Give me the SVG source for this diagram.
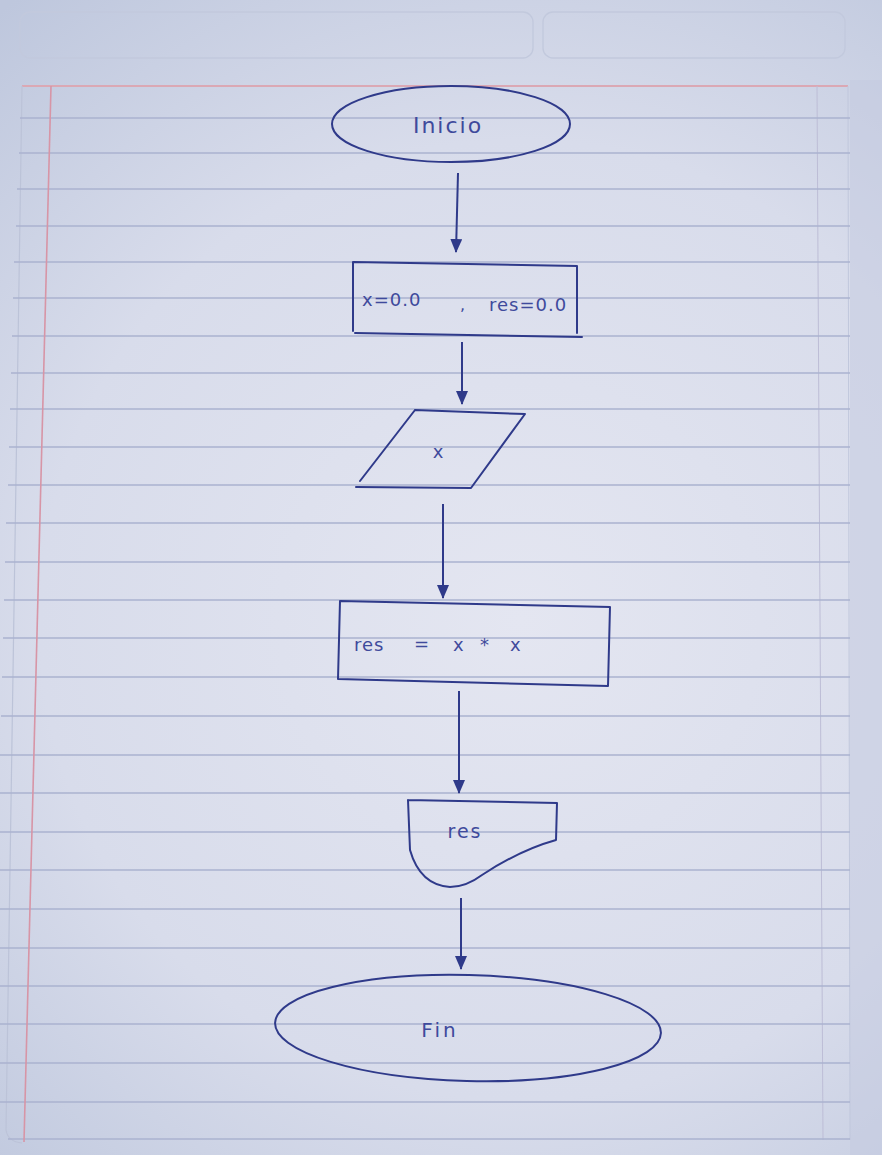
<svg xmlns="http://www.w3.org/2000/svg" width="882" height="1155" viewBox="0 0 882 1155">
  <defs>
    <radialGradient id="paper" cx="520" cy="620" r="800" gradientUnits="userSpaceOnUse">
      <stop offset="0" stop-color="#e4e6f1"/>
      <stop offset="0.6" stop-color="#d8dceb"/>
      <stop offset="1" stop-color="#bec7dd"/>
    </radialGradient>
    <marker id="arrow" viewBox="0 0 14 12" refX="13" refY="6" markerWidth="14" markerHeight="12" markerUnits="userSpaceOnUse" orient="auto">
      <path d="M0,0 L14,6 L0,12 Z" fill="#2f3a8a"/>
    </marker>
    <style>
      .rule { stroke: #aab2d0; stroke-width: 1.4; fill: none; }
      .ink { stroke: #2f3a8a; stroke-width: 2; fill: none; stroke-linecap: round; stroke-linejoin: round; }
      .conn { stroke: #2f3a8a; stroke-width: 2; fill: none; marker-end: url(#arrow); }
      .lbl { font-family: "DejaVu Sans", "Liberation Sans", sans-serif; font-weight: 400; fill: #3f4a9c; }
    </style>
  </defs>

  <!-- paper -->
  <rect x="0" y="0" width="882" height="1155" fill="url(#paper)"/>
  <rect x="850" y="80" width="32" height="1075" fill="#c3cadf" opacity="0.5"/>
  <!-- header boxes -->
  <rect x="20" y="12" width="513" height="46" rx="10" fill="none" stroke="#c2c9dd" stroke-width="1.4"/>
  <rect x="543" y="12" width="302" height="46" rx="10" fill="none" stroke="#c2c9dd" stroke-width="1.4"/>
  <!-- page top edge (pink) -->
  <line x1="22" y1="86" x2="848" y2="86" stroke="#dba8b4" stroke-width="2"/>
  <!-- page left edge -->
  <path d="M22,86 L6,1130 Q8,1142 22,1143" fill="none" stroke="#bcc3d8" stroke-width="1.2"/>
  <!-- right guide -->
  <line x1="817" y1="86" x2="823" y2="1140" stroke="#bdbdd6" stroke-width="1"/>
  <line x1="848" y1="86" x2="850" y2="1140" stroke="#c0c7dc" stroke-width="1"/>

  <!-- ruled lines -->
  <path class="rule" d="M20,118 H850 M19,153 H850 M17,189 H850 M16,226 H850 M14,262 H850 M13,298 H850 M12,336 H850 M11,373 H850 M10,409 H850 M9,447 H850 M8,485 H850 M6,523 H850 M5,562 H850 M4,600 H850 M3,638 H850 M2,677 H850 M1,716 H850 M0,755 H850 M0,793 H850 M0,832 H850 M0,870 H850 M0,909 H850 M0,948 H850 M0,986 H850 M0,1024 H850 M0,1063 H850 M0,1102 H850 M8,1139 H850"/>
  <!-- red margin -->
  <line x1="51" y1="86" x2="24" y2="1142" stroke="#d795a6" stroke-width="1.6"/>

  <!-- connectors -->
  <g id="connectors">
    <path class="conn" d="M458,173 L456,252"/>
    <path class="conn" d="M462,342 L462,404"/>
    <path class="conn" d="M443,504 L443,598"/>
    <path class="conn" d="M459,691 L459,793"/>
    <path class="conn" d="M461,898 L461,969"/>
  </g>

  <!-- nodes -->
  <g id="inicio">
    <ellipse class="ink" cx="451" cy="124" rx="119" ry="38"/>
    <text class="lbl" x="448" y="133" font-size="22" text-anchor="middle" letter-spacing="2">Inicio</text>
  </g>

  <g id="init">
    <path class="ink" d="M353,262 L577,266 M353,262 L353,331 M577,266 L577,333 M355,333 L582,337"/>
    <text class="lbl" x="362" y="306" font-size="18" letter-spacing="1">x=0.0</text>
    <text class="lbl" x="460" y="310" font-size="16">,</text>
    <text class="lbl" x="489" y="311" font-size="18" letter-spacing="1">res=0.0</text>
  </g>

  <g id="input">
    <path class="ink" d="M415,410 L525,414 L471,488 L356,487 M415,410 L360,481"/>
    <text class="lbl" x="438" y="458" font-size="18" text-anchor="middle">x</text>
  </g>

  <g id="process">
    <path class="ink" d="M340,601 L610,607 L608,686 L338,679 Z"/>
    <text class="lbl" x="354" y="651" font-size="18" letter-spacing="1">res</text>
    <text class="lbl" x="414" y="650" font-size="18">=</text>
    <text class="lbl" x="453" y="651" font-size="18">x</text>
    <text class="lbl" x="480" y="651" font-size="18">*</text>
    <text class="lbl" x="510" y="651" font-size="18">x</text>
  </g>

  <g id="output">
    <path class="ink" d="M408,800 L557,803 L556,840 Q520,850 482,875 Q466,887 450,887 Q420,885 410,850 L408,800"/>
    <text class="lbl" x="465" y="838" font-size="19" text-anchor="middle" letter-spacing="2">res</text>
  </g>

  <g id="fin">
    <ellipse class="ink" cx="468" cy="1028" rx="193" ry="53" transform="rotate(1.5 468 1028)"/>
    <text class="lbl" x="440" y="1037" font-size="20" text-anchor="middle" letter-spacing="3">Fin</text>
  </g>
</svg>
